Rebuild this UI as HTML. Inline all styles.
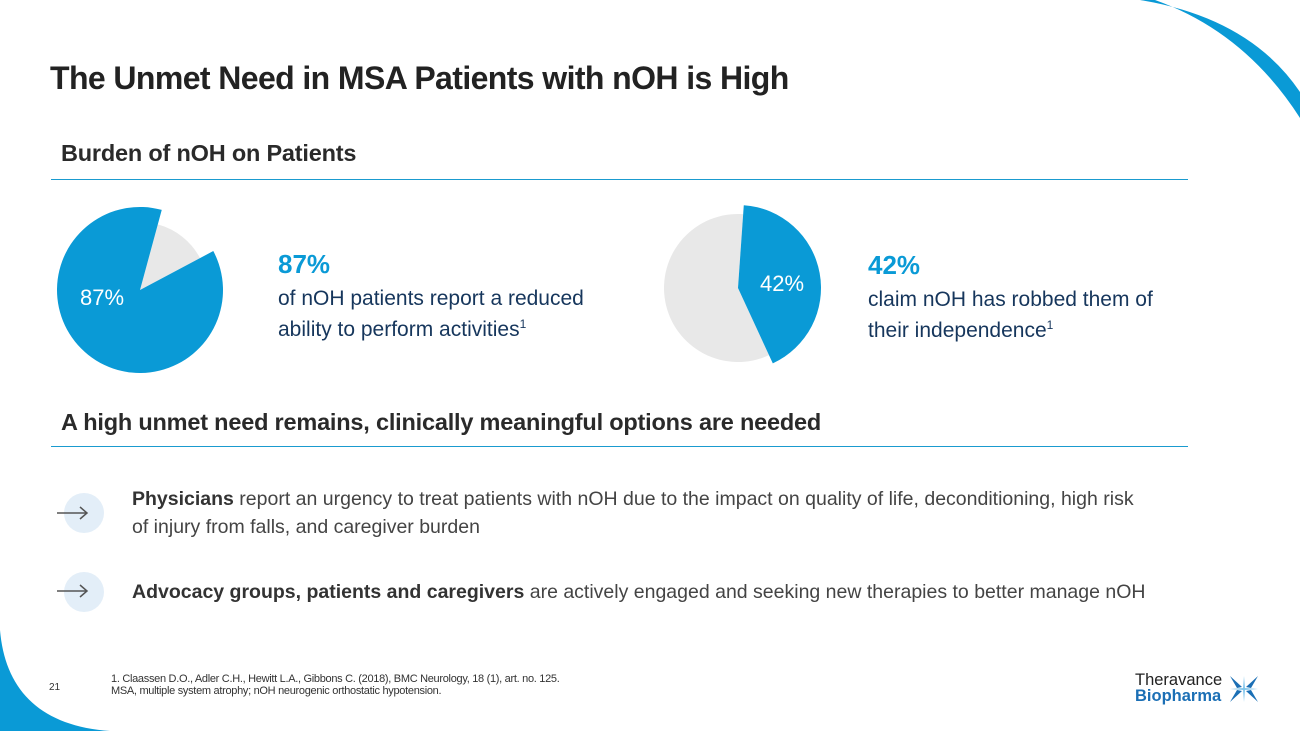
<!DOCTYPE html>
<html><head><meta charset="utf-8"><style>
body{margin:0;width:1300px;height:731px;overflow:hidden;background:#fff;font-family:"Liberation Sans",sans-serif;position:relative}
.a{position:absolute;margin:0}
h1{font-size:32px;font-weight:bold;color:#222;letter-spacing:-0.6px}
h2{font-size:23.5px;font-weight:bold;color:#2a2a2a;letter-spacing:-0.2px}
.rule{position:absolute;left:51px;width:1137px;height:1px;background:#1a9bcf}
.big{font-size:26px;font-weight:bold;color:#0a9ad6}
.desc{font-size:21px;color:#16365c;line-height:31px}
.desc sup{font-size:12px;line-height:0;vertical-align:8px}
.bul{font-size:19.5px;color:#444;line-height:28px}
.bul b{color:#333}
</style></head><body>
<svg class="a" style="left:0;top:0" width="1300" height="731">
<path d="M1140,0 Q1250,18 1300,92 L1300,118 Q1245,32 1155,0 Z" fill="#0a9ad6"/>
<path d="M0,630 C5,690 40,726 110,731 L0,731 Z" fill="#0a9ad6"/>
<g><circle cx="84" cy="513" r="20" fill="#e3eef8"/><path d="M57,513 H87 M80,507 L87,513 L80,519" stroke="#555" stroke-width="1.5" fill="none"/></g>
<g><circle cx="84" cy="592" r="20" fill="#e3eef8"/><path d="M57,591 H87 M80,585 L87,591 L80,597" stroke="#555" stroke-width="1.5" fill="none"/></g>
<g id="pies"></g>
</svg>
<h1 class="a" style="left:50px;top:60px">The Unmet Need in MSA Patients with nOH is High</h1>
<h2 class="a" style="left:61px;top:140px">Burden of nOH on Patients</h2>
<div class="rule" style="top:179px"></div>
<div class="a big" style="left:278px;top:249px">87%</div>
<div class="a desc" style="left:278px;top:283px">of nOH patients report a reduced<br>ability to perform activities<sup>1</sup></div>
<div class="a big" style="left:868px;top:250px">42%</div>
<div class="a desc" style="left:868px;top:284px">claim nOH has robbed them of<br>their independence<sup>1</sup></div>
<h2 class="a" style="left:61px;top:409px">A high unmet need remains, clinically meaningful options are needed</h2>
<div class="rule" style="top:446px"></div>
<div class="a bul" style="left:132px;top:485px;width:1015px"><b>Physicians</b> report an urgency to treat patients with nOH due to the impact on quality of life, deconditioning, high risk of injury from falls, and caregiver burden</div>
<div class="a bul" style="left:132px;top:578px"><b>Advocacy groups, patients and caregivers</b> are actively engaged and seeking new therapies to better manage nOH</div>
<div class="a" style="left:49px;top:682px;font-size:10px;color:#333">21</div>
<div class="a" style="left:111px;top:674px;font-size:11px;line-height:11.5px;color:#333;letter-spacing:-0.3px">1. Claassen D.O., Adler C.H., Hewitt L.A., Gibbons C. (2018), BMC Neurology, 18 (1), art. no. 125.<br>MSA, multiple system atrophy; nOH neurogenic orthostatic hypotension.</div>
<div class="a" style="left:1135px;top:673px;font-size:16.5px;line-height:15.5px;font-weight:bold"><span style="color:#222;font-weight:normal">Theravance</span><br><span style="color:#1b6fb5">Biopharma</span></div>
<svg class="a" style="left:1228px;top:674px" width="32" height="30"><path d="M2,2 L14,13 L9,14 Z M30,2 L18,13 L23,14 Z M2,28 L14,17 L9,16 Z M30,28 L18,17 L23,16 Z" fill="#1b6fb5"/><path d="M16,2 L17,15 L16,28 L15,15 Z M2,15 L16,14 L30,15 L16,16Z" fill="#7cc3ea"/></svg>
<script>
const pieValues=[87,42];
const pieLabels=["87%","42%"];
const pies=[{cx:140,cy:290,r:83,rg:68,start:62,lx:102,ly:298},{cx:738,cy:288,r:83,rg:74,start:4,lx:782,ly:284}];
const g=document.getElementById('pies');
const NS='http://www.w3.org/2000/svg';
function pt(cx,cy,r,a){const t=a*Math.PI/180;return [cx+r*Math.sin(t),cy-r*Math.cos(t)];}
function arc(cx,cy,r,a0,a1){const p0=pt(cx,cy,r,a0),p1=pt(cx,cy,r,a1);const l=(a1-a0)>180?1:0;return `M${cx},${cy} L${p0[0]},${p0[1]} A${r},${r} 0 ${l} 1 ${p1[0]},${p1[1]} Z`;}
pieValues.forEach((v,i)=>{const p=pies[i];const span=v/100*360;
const grey=document.createElementNS(NS,'path');
grey.setAttribute('d',arc(p.cx,p.cy,p.rg,p.start+span,p.start+360));grey.setAttribute('fill','#e8e8e8');


g.appendChild(grey);
const b=document.createElementNS(NS,'path');
b.setAttribute('d',arc(p.cx,p.cy,p.r,p.start,p.start+span));b.setAttribute('fill','#0a9ad6');


g.appendChild(b);
const t=document.createElementNS(NS,'text');
t.setAttribute('x',p.lx);t.setAttribute('y',p.ly+7);t.setAttribute('text-anchor','middle');
t.setAttribute('fill','#fff');t.setAttribute('font-size','22');t.setAttribute('font-family','Liberation Sans, sans-serif');
t.textContent=pieLabels[i];


g.appendChild(t);});
</script>
</body></html>
